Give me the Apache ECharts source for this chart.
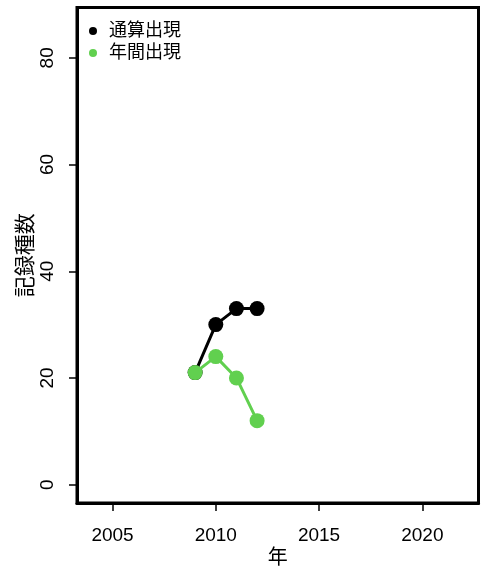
<!DOCTYPE html>
<html>
<head>
<meta charset="utf-8">
<script src="https://cdn.jsdelivr.net/npm/echarts@6/dist/echarts.min.js"></script>
<style>html,body{margin:0;padding:0;background:#fff}#c{width:488px;height:569px}</style>
</head>
<body>
<div id="c"></div>
<script>
const years = [2009, 2010, 2011, 2012];
const cumulative = [21, 30, 33, 33];   // 通算出現
const annual = [21, 24, 20, 12];       // 年間出現
const xTicks = [2005, 2010, 2015, 2020];
const yTicks = [0, 20, 40, 60, 80];
const seriesNames = ['通算出現', '年間出現'];
const colors = ['#000000', '#61D04F'];

const FONT = 'Liberation Sans, Arial, Noto Sans CJK JP, sans-serif';
const chart = echarts.init(document.getElementById('c'), null, {renderer: 'canvas'});
const mk = (vals) => years.map((y, i) => [y, vals[i]]);
chart.setOption({
  animation: false,
  backgroundColor: '#fff',
  textStyle: {fontFamily: FONT},
  grid: {left: 77, right: 9.5, top: 7.5, bottom: 66, show: true, borderColor: '#000', borderWidth: 3,
         containLabel: false, outerBoundsMode: 'none'},
  legend: {
    data: seriesNames.map(n => ({name: n, icon: 'circle'})),
    orient: 'vertical', left: 84, top: 17,
    itemWidth: 8, itemHeight: 8, itemGap: 4,
    textStyle: {fontSize: 18, lineHeight: 18, color: '#000', fontFamily: FONT, padding: [0, 0, 0, 7]}
  },
  xAxis: {
    type: 'value', min: 2003.28, max: 2022.72,
    name: '年', nameLocation: 'middle', nameGap: 45, nameMoveOverlap: false,
    nameTextStyle: {fontSize: 20, color: '#000', fontFamily: FONT},
    axisLine: {show: true, onZero: false, lineStyle: {color: '#000', width: 3}},
    axisTick: {show: true, length: 8, inside: false, lineStyle: {color: '#000', width: 1.5}, customValues: xTicks},
    axisLabel: {fontSize: 19, color: '#000', margin: 23, customValues: xTicks, fontFamily: FONT,
                formatter: v => String(v)},
    splitLine: {show: false}
  },
  yAxis: {
    type: 'value', min: -3.44, max: 89.44,
    name: '記録種数', nameLocation: 'middle', nameGap: 40, nameRotate: 90, nameMoveOverlap: false,
    nameTextStyle: {fontSize: 21, color: '#000', fontFamily: FONT},
    axisLine: {show: true, onZero: false, lineStyle: {color: '#000', width: 3}},
    axisTick: {show: true, length: 8, lineStyle: {color: '#000', width: 1.5}, customValues: yTicks},
    axisLabel: {fontSize: 19, color: '#000', margin: 20, rotate: 90, customValues: yTicks, fontFamily: FONT,
                formatter: v => String(v)},
    splitLine: {show: false}
  },
  series: [
    {name: seriesNames[0], type: 'line', data: mk(cumulative), symbol: 'circle', symbolSize: 15,
     itemStyle: {color: colors[0]}, lineStyle: {color: colors[0], width: 3}, z: 2},
    {name: seriesNames[1], type: 'line', data: mk(annual), symbol: 'circle', symbolSize: 15,
     itemStyle: {color: colors[1]}, lineStyle: {color: colors[1], width: 3}, z: 3}
  ]
});
</script>
</body>
</html>
